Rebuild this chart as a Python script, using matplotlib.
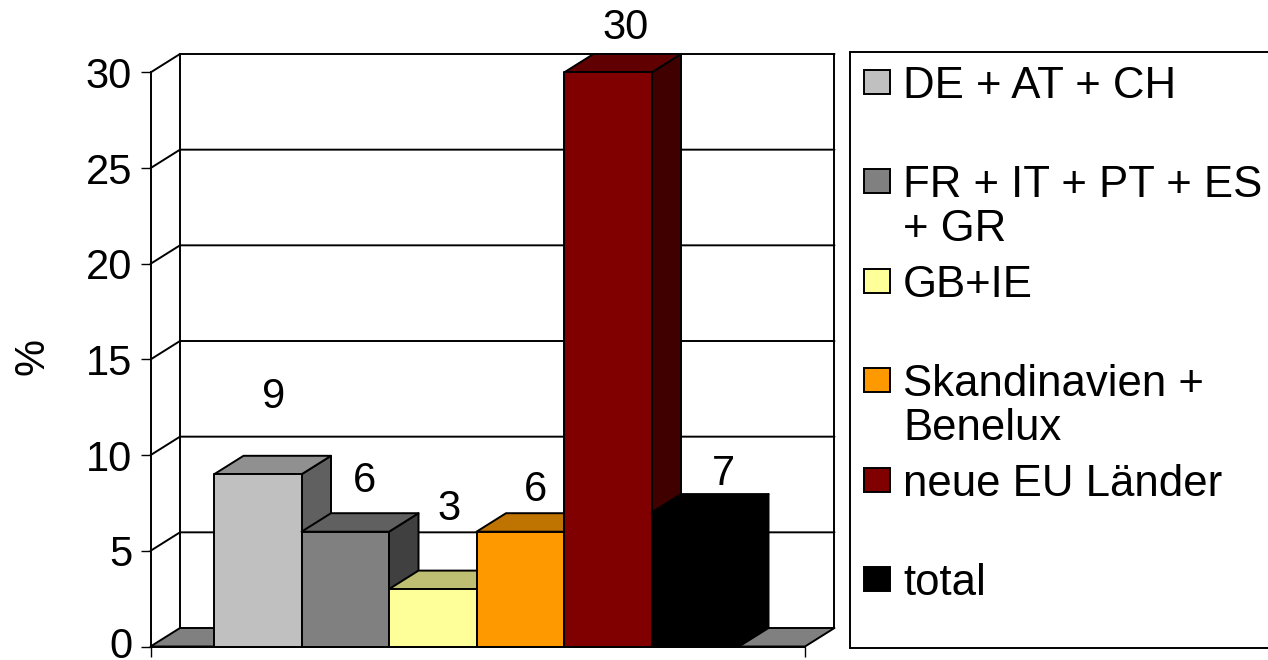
import matplotlib

matplotlib.use("Agg")

import matplotlib.pyplot as plt
from matplotlib.colors import to_rgb
from matplotlib.patches import Polygon, Rectangle
from matplotlib.transforms import ScaledTranslation

plt.rcParams["font.family"] = ["Liberation Sans", "DejaVu Sans"]

regions = ["DE + AT + CH", "FR + IT + PT + ES\n+ GR", "GB+IE",
           "Skandinavien +\nBenelux", "neue EU Länder", "total"]
values = [9, 6, 3, 6, 30, 7]
colors = ["#c0c0c0", "#808080", "#ffff99", "#ff9900", "#800000", "#000000"]
y_ticks = [0, 5, 10, 15, 20, 25, 30]

# offsets of the value labels from the front top centre of each bar, in points
label_offsets = [(11.5, 55.5), (14, 36.5), (12, 57.5), (11, 30), (13, 32), (20, 28)]

W, H = 1268, 660
LINE = 1.4
FONT = 30
LEGEND_FONT = 31.5
DEPTH_X = 0.337
DEPTH_Y = 0.967
X_MIN, X_MAX = -0.726, 6.754
Y_MAX = 30


def shade(color, factor):
    return tuple(c * factor for c in to_rgb(color))


def face(ax, points, color, zorder):
    ax.add_patch(Polygon(points, closed=True, facecolor=color, edgecolor="black",
                         linewidth=LINE, joinstyle="round", clip_on=False, zorder=zorder))


def draw_bar(ax, i, value, color):
    left, right = i, i + 1
    z = 3 + i
    face(ax, [(right, 0), (right + DEPTH_X, DEPTH_Y), (right + DEPTH_X, value + DEPTH_Y), (right, value)],
         shade(color, 0.5), z)
    face(ax, [(left, value), (right, value), (right + DEPTH_X, value + DEPTH_Y), (left + DEPTH_X, value + DEPTH_Y)],
         shade(color, 0.75), z)
    face(ax, [(left, 0), (right, 0), (right, value), (left, value)], color, z)


fig = plt.figure(figsize=(W / 100, H / 100), dpi=100)
ax = fig.add_axes([150.5 / W, 1 - 646.5 / H, (805 - 150.5) / W, (646.5 - 72.5) / H])
ax.set_xlim(X_MIN, X_MAX)
ax.set_ylim(0, Y_MAX)
ax.patch.set_visible(False)

# back wall, floor and gridlines of the pseudo-3D box
back_left = X_MIN + DEPTH_X
back_right = X_MAX + DEPTH_X
face(ax, [(X_MIN, 0), (X_MAX, 0), (back_right, DEPTH_Y), (back_left, DEPTH_Y)], "#808080", 1)
for tick in y_ticks[1:]:
    ax.plot([X_MIN, back_left, back_right], [tick, tick + DEPTH_Y, tick + DEPTH_Y],
            color="black", lw=LINE, clip_on=False, zorder=2, solid_capstyle="round")
ax.plot([back_left, back_left], [DEPTH_Y, Y_MAX + DEPTH_Y], color="black", lw=LINE, clip_on=False, zorder=2)
ax.plot([back_right, back_right], [DEPTH_Y, Y_MAX + DEPTH_Y], color="black", lw=LINE, clip_on=False, zorder=2)

for i, (value, color) in enumerate(zip(values, colors)):
    draw_bar(ax, i, value, color)
    ax.annotate(str(value), xy=(i + 0.5, value), xytext=label_offsets[i], textcoords="offset points",
                ha="center", va="center", fontsize=FONT, color="black", zorder=20, annotation_clip=False)

for side in ("top", "right"):
    ax.spines[side].set_visible(False)
for side in ("left", "bottom"):
    ax.spines[side].set_linewidth(LINE)
    ax.spines[side].set_zorder(15)

ax.set_yticks(y_ticks)
ax.set_xticks([X_MIN, X_MAX])
ax.set_xticklabels([])
ax.tick_params(axis="y", length=7.2, width=1.0, pad=6, labelsize=FONT)
ax.tick_params(axis="x", length=7, width=1.0)

# the zero label sits at the very bottom, lift it so the digit stays whole
zero_label = ax.get_yticklabels()[0]
zero_label.set_transform(zero_label.get_transform() + ScaledTranslation(0, 3 / 72, fig.dpi_scale_trans))

ax.set_ylabel("%", fontsize=FONT, labelpad=0, va="center")
ax.yaxis.set_label_coords((33 - 150.5) / (805 - 150.5), (646.5 - 357) / (646.5 - 72.5))

# legend panel laid out in pixel coordinates
lg = fig.add_axes([0, 0, 1, 1])
lg.set_xlim(0, W)
lg.set_ylim(H, 0)
lg.axis("off")
lg.patch.set_visible(False)
lg.add_patch(Rectangle((849.5, 52), 480, 596, facecolor="white", edgecolor="black", linewidth=LINE))
for i, (name, color) in enumerate(zip(regions, colors)):
    cy = 82 + i * 99.4
    lg.add_patch(Rectangle((864, cy - 12), 26, 24, facecolor=color, edgecolor="black", linewidth=LINE))
    lg.text(903, cy - 16, name, fontsize=LEGEND_FONT, va="top", ha="left", color="black", linespacing=1.09)

fig.savefig("out.png", dpi=100)
